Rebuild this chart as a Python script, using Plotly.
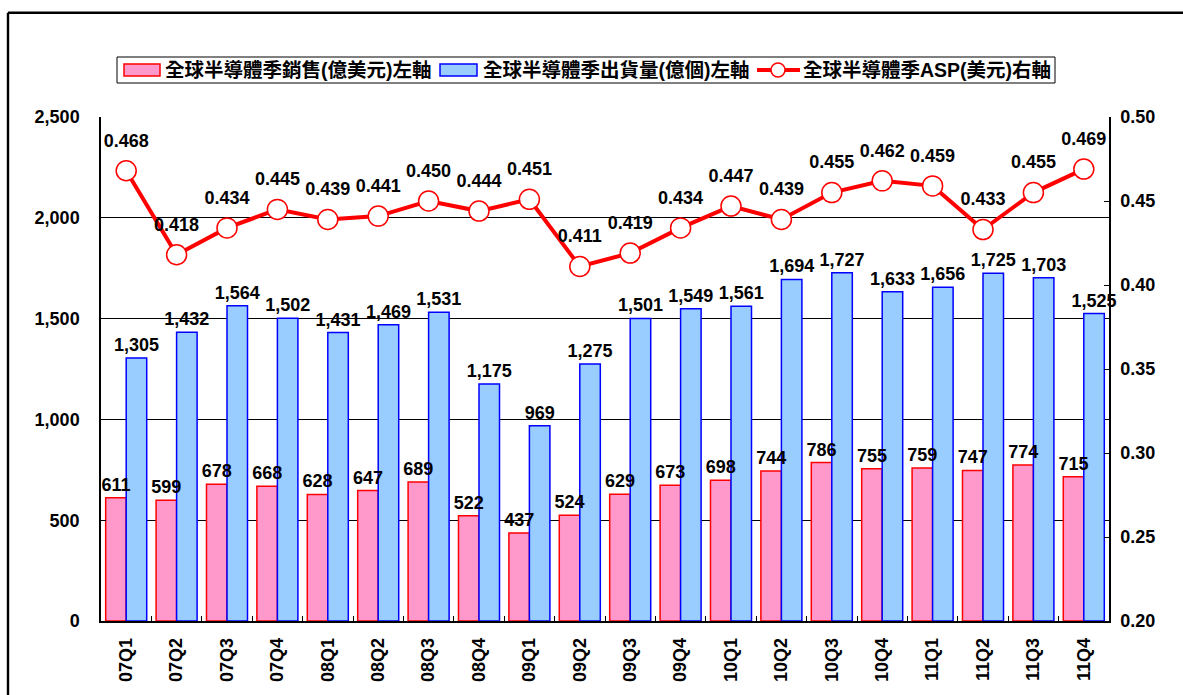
import plotly.graph_objects as go

quarters = ["07Q1", "07Q2", "07Q3", "07Q4", "08Q1", "08Q2", "08Q3", "08Q4",
            "09Q1", "09Q2", "09Q3", "09Q4", "10Q1", "10Q2", "10Q3", "10Q4",
            "11Q1", "11Q2", "11Q3", "11Q4"]
sales = [611, 599, 678, 668, 628, 647, 689, 522, 437, 524,
         629, 673, 698, 744, 786, 755, 759, 747, 774, 715]
shipments = [1305, 1432, 1564, 1502, 1431, 1469, 1531, 1175, 969, 1275,
             1501, 1549, 1561, 1694, 1727, 1633, 1656, 1725, 1703, 1525]
asp = [0.468, 0.418, 0.434, 0.445, 0.439, 0.441, 0.450, 0.444, 0.451, 0.411,
       0.419, 0.434, 0.447, 0.439, 0.455, 0.462, 0.459, 0.433, 0.455, 0.469]

names = ["全球半導體季銷售(億美元)左軸", "全球半導體季出貨量(億個)左軸",
         "全球半導體季ASP(美元)右軸"]
left_ticks = [0, 500, 1000, 1500, 2000, 2500]
right_ticks = [0.20, 0.25, 0.30, 0.35, 0.40, 0.45, 0.50]

FONT = "Liberation Sans, Arial, Noto Sans CJK TC, sans-serif"
LEG_FONT = "Liberation Sans, Noto Sans CJK TC, sans-serif"
PINK, RED, BLUE_F, BLUE = "#FF99CC", "#FF0000", "#99CCFF", "#0000FF"

W, H = 1183, 695
L, R, T, B = 101, 74, 117, 74
pw, ph = W - L - R, H - T - B


def fx(x):  # page px -> paper x
    return (x - L) / pw


def fy(y):  # page px -> paper y
    return (H - B - y) / ph


bold18 = dict(family=FONT, size=18, color="black", weight="bold")

fig = go.Figure()
fig.add_trace(go.Bar(
    x=quarters, y=sales, name=names[0],
    marker=dict(color=PINK, line=dict(color=RED, width=1.5)),
))
fig.add_trace(go.Bar(
    x=quarters, y=shipments, name=names[1],
    marker=dict(color=BLUE_F, line=dict(color=BLUE, width=1.5)),
))
fig.add_trace(go.Scatter(
    x=quarters, y=asp, name=names[2], yaxis="y2",
    mode="lines+markers",
    line=dict(color=RED, width=4),
    marker=dict(size=20, color="white", line=dict(color=RED, width=1.5)),
    cliponaxis=False,
))
# value labels for the ASP line (transparent larger markers push text up)
fig.add_trace(go.Scatter(
    x=quarters, y=asp, yaxis="y2", mode="markers+text", showlegend=False,
    marker=dict(size=30, color="rgba(0,0,0,0)"),
    text=[f"{v:.3f}" for v in asp], textposition="top center",
    textfont=bold18, cliponaxis=False, hoverinfo="skip",
))
# bar value labels on an overlaid subplot so they sit above all bars
for vals in (sales, shipments):
    fig.add_trace(go.Bar(
        x=quarters, y=vals, xaxis="x2", yaxis="y3", showlegend=False,
        marker=dict(color="rgba(0,0,0,0)", line=dict(width=0)),
        text=[f"{v:,}" for v in vals], textposition="outside",
        textfont=bold18, constraintext="none", cliponaxis=False,
        hoverinfo="skip",
    ))

frame = dict(color="black", width=2.4)
shapes = [
    # outer frame (runs off the right and bottom edges)
    dict(type="line", xref="paper", yref="paper",
         x0=fx(8), y0=fy(12.8), x1=fx(W + 40), y1=fy(12.8), line=frame,
         layer="above"),
    dict(type="line", xref="paper", yref="paper",
         x0=fx(8), y0=fy(12.8), x1=fx(8), y1=fy(H + 40), line=frame,
         layer="above"),
    # legend box
    dict(type="rect", xref="paper", yref="paper",
         x0=fx(117), y0=fy(83), x1=fx(1055), y1=fy(57),
         line=dict(color="black", width=1), fillcolor="white"),
    dict(type="rect", xref="paper", yref="paper",
         x0=fx(124), y0=fy(76), x1=fx(160), y1=fy(64),
         line=dict(color=RED, width=1.5), fillcolor=PINK),
    dict(type="rect", xref="paper", yref="paper",
         x0=fx(440), y0=fy(76), x1=fx(477), y1=fy(64),
         line=dict(color=BLUE, width=1.5), fillcolor=BLUE_F),
    dict(type="line", xref="paper", yref="paper",
         x0=fx(757), y0=fy(70), x1=fx(800), y1=fy(70),
         line=dict(color=RED, width=4)),
    dict(type="circle", xref="paper", yref="paper",
         x0=fx(771), y0=fy(77), x1=fx(785), y1=fy(63),
         line=dict(color=RED, width=1.5), fillcolor="white"),
]

leg_font = dict(family=LEG_FONT, size=19.5, color="black", weight="bold")
annotations = [
    dict(xref="paper", yref="paper", x=fx(tx), y=fy(70), text=t,
         xanchor="left", yanchor="middle", showarrow=False, font=leg_font,
         borderpad=0)
    for tx, t in zip([164, 482, 802], names)
]

xrange = [-0.5, len(quarters) - 0.5]
fig.update_layout(
    width=W, height=H,
    margin=dict(l=L, r=R, t=T, b=B, pad=0, autoexpand=False),
    paper_bgcolor="white", plot_bgcolor="white",
    barmode="group", bargap=0.186, bargroupgap=0,
    font=dict(family=FONT, size=18, color="black"),
    showlegend=False,
    shapes=shapes, annotations=annotations,
    xaxis=dict(
        type="category", range=xrange, tickangle=-90,
        tickfont=bold18,
        showline=True, linecolor="black", linewidth=1.5,
        ticks="inside", ticklen=5, tickcolor="black", tickson="boundaries",
        showgrid=False, ticklabelstandoff=8,
    ),
    yaxis=dict(
        range=[0, 2500], tickvals=left_ticks, tickformat=",",
        tickfont=bold18,
        showline=True, linecolor="black", linewidth=1.5,
        ticks="inside", ticklen=5, tickcolor="black",
        showgrid=True, gridcolor="black", gridwidth=1, zeroline=False,
        ticklabelstandoff=16,
    ),
    yaxis2=dict(
        range=[0.20, 0.50], tickvals=right_ticks, tickformat=".2f",
        overlaying="y", side="right",
        tickfont=bold18,
        showline=True, linecolor="black", linewidth=1.5,
        ticks="inside", ticklen=5, tickcolor="black",
        showgrid=False, zeroline=False, ticklabelstandoff=6,
    ),
    xaxis2=dict(type="category", range=xrange, overlaying="x", anchor="y3",
                visible=False),
    yaxis3=dict(range=[0, 2500], overlaying="y", anchor="x2", visible=False),
)

# remove the default page margin so the 1183x695 figure fills the window
fig.write_html(
    "out.html",
    config={"displayModeBar": False},
    post_script="document.body.style.margin='0';"
                "document.body.style.overflow='hidden';",
)
